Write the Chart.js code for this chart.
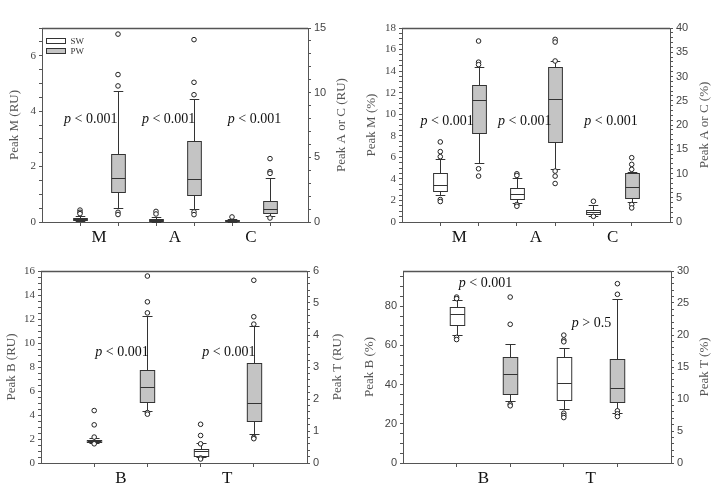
<!DOCTYPE html>
<html>
<head>
<meta charset="utf-8">
<script src="https://cdn.jsdelivr.net/npm/chart.js@4.4.0/dist/chart.umd.min.js"></script>
<style>
  body { margin: 0; background: #fff; width: 713px; height: 495px; position: relative; overflow: hidden; }
  canvas { position: absolute; }
</style>
</head>
<body>
<canvas id="c1" width="356" height="250" style="left:0;top:0"></canvas>
<canvas id="c2" width="357" height="250" style="left:356px;top:0"></canvas>
<canvas id="c3" width="356" height="245" style="left:0;top:250px"></canvas>
<canvas id="c4" width="357" height="245" style="left:356px;top:250px"></canvas>
<script>
// box stats per group: [low whisker, Q1, median, Q3, high whisker]

// top left: peaks M, A, C in RU (M on left axis, A and C on right axis)
const groups1 = ['M', 'A', 'C'];
const axis1 = ['y', 'y1', 'y1'];
const sw1 = [[0.02, 0.07, 0.11, 0.16, 0.22], [0.03, 0.10, 0.16, 0.25, 0.35], [0.02, 0.08, 0.12, 0.18, 0.25]];
const pw1 = [[0.51, 1.09, 1.58, 2.47, 4.73], [1.01, 2.12, 3.29, 6.30, 9.51], [0.44, 0.70, 1.01, 1.66, 3.42]];
const swOut1 = [[0.43, 0.35, 0.30], [0.82, 0.62], [0.39]];
const pwOut1 = [[6.78, 5.32, 4.91, 0.35, 0.27], [14.1, 10.8, 9.84, 0.78, 0.57], [4.9, 3.89, 3.76, 0.31]];

// top right: peaks M, A, C in %
const groups2 = ['M', 'A', 'C'];
const axis2 = ['y', 'y1', 'y1'];
const sw2 = [[2.46, 2.86, 3.39, 4.51, 5.81], [3.94, 4.77, 5.80, 7.05, 9.12], [1.31, 1.66, 2.14, 2.42, 3.59]];
const pw2 = [[5.44, 8.30, 11.35, 12.71, 14.36], [10.98, 16.58, 25.35, 32.05, 33.1], [4.08, 4.90, 7.25, 10.02, 10.3]];
const swOut2 = [[7.43, 6.53, 6.06, 2.08, 1.9], [9.95, 9.6, 3.6, 3.25], [4.28, 1.17]];
const pwOut2 = [[16.79, 14.83, 14.6, 4.94, 4.26], [37.65, 37.1, 33.2, 10.5, 9.46, 7.94], [13.26, 11.88, 10.85, 3.6, 2.9]];

// bottom left: peaks B, T in RU
const groups3 = ['B', 'T'];
const axis3 = ['y', 'y1'];
const sw3 = [[1.66, 1.72, 1.83, 1.94, 2.08], [0.176, 0.228, 0.363, 0.446, 0.623]];
const pw3 = [[4.35, 5.07, 6.31, 7.75, 12.24], [0.91, 1.32, 1.87, 3.11, 4.28]];
const swOut3 = [[4.37, 3.18, 2.16, 1.6], [1.21, 0.86, 0.6, 0.156, 0.125]];
const pwOut3 = [[15.58, 13.43, 12.51, 4.2, 4.07], [5.71, 4.57, 4.34, 0.8, 0.76]];

// bottom right: peaks B, T in %
const groups4 = ['B', 'T'];
const axis4 = ['y', 'y1'];
const sw4 = [[65.3, 70.3, 75.8, 79.7, 83.1], [8.4, 9.86, 12.45, 16.6, 17.9]];
const pw4 = [[31.7, 35.1, 45.3, 53.9, 60.5], [7.78, 9.5, 11.78, 16.24, 25.69]];
const swOut4 = [[84.7, 83.9, 64.1, 63], [19.98, 19.2, 18.94, 7.78, 7.42, 7.1]];
const pwOut4 = [[84.7, 70.8, 30, 29.2], [28.02, 26.36, 8.15, 7.68, 7.26]];

const seriesNames = ['SW', 'PW'];

const SERIF = '"Liberation Serif", "Times New Roman", serif';
const SANS = '"Liberation Sans", Arial, sans-serif';
const FILLS = ['#ffffff', '#c4c4c4'];
const INK = '#333';

function tickList(max, step){
  const out = [];
  const n = Math.floor(max / step + 1e-6);
  for (let i = 0; i <= n; i++) out.push({ value: +(i * step).toFixed(4) });
  return out;
}

function yAxis(pos, ax, width){
  return {
    type: 'linear', position: pos, min: 0, max: ax.max,
    afterBuildTicks: sc => { sc.ticks = tickList(ax.max, ax.minor); },
    afterFit: sc => { sc.width = width; },
    ticks: {
      autoSkip: false, padding: 3, color: '#444',
      font: { family: ax.font, size: 11 },
      callback: v => Math.abs(v / ax.major - Math.round(v / ax.major)) < 1e-6 ? String(v) : ''
    },
    grid: { drawOnChartArea: false, tickLength: 3, tickColor: '#555' },
    border: { color: '#555' }
  };
}

function makePanel(id, p){
  const n = p.groups.length;
  const datasets = [];
  p.groups.forEach((g, i) => {
    [p.swOut[i], p.pwOut[i]].forEach((vals, s) => {
      datasets.push({
        data: vals.map(v => ({ x: 2 * i + 1 + s, y: v })),
        yAxisID: p.axis[i],
        pointRadius: 2.3, pointHoverRadius: 2.3, pointBorderWidth: 1,
        pointBorderColor: '#222', pointBackgroundColor: '#fff'
      });
    });
  });

  const boxes = {
    id: 'boxes',
    beforeDatasetsDraw(chart){
      const ctx = chart.ctx;
      const xs = chart.scales.x;
      p.groups.forEach((g, i) => {
        [p.sw[i], p.pw[i]].forEach((st, s) => {
          const ys = chart.scales[p.axis[i]];
          const xv = 2 * i + 1 + s;
          const cx = Math.round(xs.getPixelForValue(xv)) + 0.5;
          const hw = (xs.getPixelForValue(xv + p.boxW / 2) - xs.getPixelForValue(xv));
          const cw = hw * 0.7;
          const [lo, q1, md, q3, hi] = st.map(v => Math.round(ys.getPixelForValue(v)) + 0.5);
          ctx.save();
          ctx.strokeStyle = INK;
          ctx.lineWidth = 1;
          ctx.beginPath();
          ctx.moveTo(cx, q3); ctx.lineTo(cx, hi);
          ctx.moveTo(cx - cw, hi); ctx.lineTo(cx + cw, hi);
          ctx.moveTo(cx, q1); ctx.lineTo(cx, lo);
          ctx.moveTo(cx - cw, lo); ctx.lineTo(cx + cw, lo);
          ctx.stroke();
          ctx.fillStyle = FILLS[s];
          ctx.fillRect(cx - hw, q3, hw * 2, q1 - q3);
          ctx.strokeRect(cx - hw, q3, hw * 2, q1 - q3);
          ctx.beginPath();
          ctx.moveTo(cx - hw, md); ctx.lineTo(cx + hw, md);
          ctx.stroke();
          ctx.restore();
        });
      });
    },
    afterDraw(chart){
      const ctx = chart.ctx;
      const a = chart.chartArea;
      ctx.save();
      // top frame line
      ctx.strokeStyle = '#555';
      ctx.lineWidth = 1.5;
      ctx.beginPath();
      ctx.moveTo(a.left, a.top + 0.5); ctx.lineTo(a.right, a.top + 0.5);
      ctx.stroke();
      // axis titles, both read bottom to top
      ctx.fillStyle = '#555';
      ctx.font = '13px ' + SERIF;
      ctx.textAlign = 'center';
      ctx.textBaseline = 'middle';
      const midY = (a.top + a.bottom) / 2;
      [[a.left - p.titleL, p.titleLeft], [a.right + p.titleR, p.titleRight]].forEach(([tx, text]) => {
        ctx.save();
        ctx.translate(tx, midY);
        ctx.rotate(-Math.PI / 2);
        ctx.fillText(text, 0, 0);
        ctx.restore();
      });
      // p-value notes
      const xs = chart.scales.x, ys = chart.scales.y;
      ctx.fillStyle = '#111';
      ctx.textAlign = 'left';
      p.notes.forEach(nt => {
        let x = xs.getPixelForValue(nt.x);
        const y = ys.getPixelForValue(nt.y);
        ctx.font = 'italic 14px ' + SERIF;
        ctx.fillText('p', x, y);
        x += ctx.measureText('p').width;
        ctx.font = '14px ' + SERIF;
        ctx.fillText(' ' + nt.text, x, y);
      });
      // legend
      if (p.legend){
        ctx.font = '9px ' + SERIF;
        ctx.lineWidth = 1;
        seriesNames.forEach((name, s) => {
          const lx = a.left + 4.5, ly = a.top + 10.5 + s * 10;
          ctx.fillStyle = FILLS[s];
          ctx.fillRect(lx, ly, 19, 5);
          ctx.strokeStyle = INK;
          ctx.strokeRect(lx, ly, 19, 5);
          ctx.fillStyle = '#333';
          ctx.fillText(name, lx + 24, ly + 3);
        });
      }
      ctx.restore();
    }
  };

  return new Chart(document.getElementById(id), {
    type: 'scatter',
    data: { datasets },
    options: {
      responsive: false, animation: false, devicePixelRatio: 1, events: [],
      layout: { padding: { top: p.top, left: 0, right: 0, bottom: 0 } },
      plugins: { legend: { display: false }, tooltip: { enabled: false } },
      scales: {
        x: {
          type: 'linear', min: 0, max: 2 * n + 1,
          afterBuildTicks: sc => {
            const t = [];
            for (let i = 0; i < n; i++) t.push({ value: 2 * i + 1 }, { value: 2 * i + 1.5 }, { value: 2 * i + 2 });
            sc.ticks = t;
          },
          afterFit: sc => { sc.height = p.bottom; },
          ticks: {
            autoSkip: false, maxRotation: 0, padding: 1, color: '#111',
            font: { family: SERIF, size: 17 },
            callback: v => Number.isInteger(v) ? '' : p.groups[(v - 1.5) / 2]
          },
          grid: {
            drawOnChartArea: false, tickLength: 4,
            tickColor: c => (c.tick && Number.isInteger(c.tick.value)) ? '#555' : 'rgba(0,0,0,0)'
          },
          border: { color: '#555' }
        },
        y: yAxis('left', p.left, p.leftW),
        y1: yAxis('right', p.right, p.rightW)
      }
    },
    plugins: [boxes]
  });
}

makePanel('c1', {
  groups: groups1, axis: axis1, sw: sw1, pw: pw1, swOut: swOut1, pwOut: pwOut1,
  left: { max: 7, major: 2, minor: 0.5, font: SERIF }, right: { max: 15, major: 5, minor: 1, font: SANS },
  leftW: 42, rightW: 48, top: 28, bottom: 28, boxW: 0.36,
  titleLeft: 'Peak M (RU)', titleRight: 'Peak A or C (RU)', titleL: 27, titleR: 34,
  notes: [{ x: 0.58, y: 3.7, text: '< 0.001' }, { x: 2.63, y: 3.7, text: '< 0.001' }, { x: 4.89, y: 3.7, text: '< 0.001' }],
  legend: true
});

makePanel('c2', {
  groups: groups2, axis: axis2, sw: sw2, pw: pw2, swOut: swOut2, pwOut: pwOut2,
  left: { max: 18, major: 2, minor: 0.5, font: SERIF }, right: { max: 40, major: 5, minor: 1, font: SANS },
  leftW: 46, rightW: 43, top: 28, bottom: 28, boxW: 0.36,
  titleLeft: 'Peak M (%)', titleRight: 'Peak A or C (%)', titleL: 30, titleR: 35,
  notes: [{ x: 0.48, y: 9.38, text: '< 0.001' }, { x: 2.51, y: 9.38, text: '< 0.001' }, { x: 4.76, y: 9.38, text: '< 0.001' }],
  legend: false
});

makePanel('c3', {
  groups: groups3, axis: axis3, sw: sw3, pw: pw3, swOut: swOut3, pwOut: pwOut3,
  left: { max: 16, major: 2, minor: 0.5, font: SERIF }, right: { max: 6, major: 1, minor: 0.2, font: SANS },
  leftW: 41, rightW: 49, top: 21, bottom: 32, boxW: 0.27,
  titleLeft: 'Peak B (RU)', titleRight: 'Peak T (RU)', titleL: 29, titleR: 31,
  notes: [{ x: 1.02, y: 9.19, text: '< 0.001' }, { x: 3.03, y: 9.19, text: '< 0.001' }],
  legend: false
});

makePanel('c4', {
  groups: groups4, axis: axis4, sw: sw4, pw: pw4, swOut: swOut4, pwOut: pwOut4,
  left: { max: 98, major: 20, minor: 5, font: SANS }, right: { max: 30, major: 5, minor: 1, font: SANS },
  leftW: 47, rightW: 42, top: 21, bottom: 32, boxW: 0.27,
  titleLeft: 'Peak B (%)', titleRight: 'Peak T (%)', titleL: 33, titleR: 34,
  notes: [{ x: 1.04, y: 91.6, text: '< 0.001' }, { x: 3.15, y: 71.2, text: '> 0.5' }],
  legend: false
});
</script>
</body>
</html>
